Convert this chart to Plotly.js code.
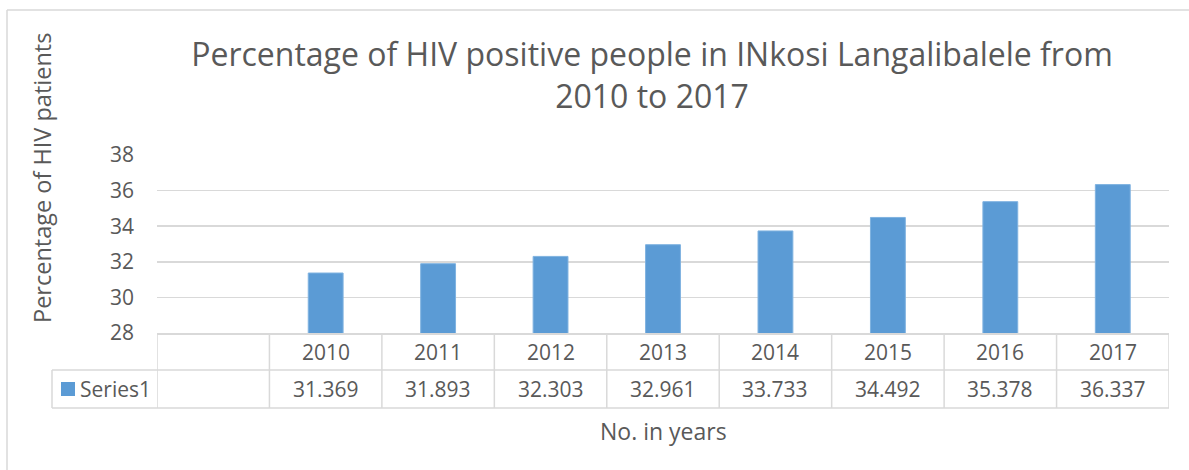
<!DOCTYPE html>
<html>
<head>
<meta charset="utf-8">
<script src="https://cdn.plot.ly/plotly-3.0.1.min.js"></script>
<style>html,body{margin:0;padding:0;background:#fff;}#chart{width:1189px;height:470px;}</style>
</head>
<body>
<div id="chart"></div>
<script>
// Data
const categories = ["", "2010", "2011", "2012", "2013", "2014", "2015", "2016", "2017"];
const values = [null, 31.369, 31.893, 32.303, 32.961, 33.733, 34.492, 35.378, 36.337];
const seriesName = "Series1";
const valueLabels = ["", "31.369", "31.893", "32.303", "32.961", "33.733", "34.492", "35.378", "36.337"];
const chartTitle = "Percentage of HIV positive people in INkosi Langalibalele from<br>2010 to 2017";
const yTitle = "Percentage of HIV patients";
const xTitle = "No. in years";

// Layout geometry (pixels)
const W = 1189, H = 470;
const L = 157, R = 1169, T = 155, B = 333;
const pw = R - L, ph = B - T;
const px = x => (x - L) / pw;
const py = y => (B - y) / ph;

const textColor = "#595959";
const gridColor = "#d9d9d9";
const barColor = "#5b9bd5";
const font = "Open Sans, sans-serif";

const xs = categories.map((c, i) => i);
const n = categories.length;

const row1Bottom = 370, row2Bottom = 408;

const shapes = [];
// outer chart border
shapes.push({type: "line", xref: "paper", yref: "paper", x0: px(7), x1: px(1200), y0: py(10), y1: py(10), line: {color: gridColor, width: 1.5}});
shapes.push({type: "line", xref: "paper", yref: "paper", x0: px(7), x1: px(7), y0: py(10), y1: py(480), line: {color: gridColor, width: 1.5}});
// table vertical lines
for (let i = 0; i <= n; i++) {
  shapes.push({type: "line", xref: "x", yref: "paper", x0: i - 0.5, x1: i - 0.5, y0: py(B), y1: py(row2Bottom), line: {color: gridColor, width: 1.5}});
}
// table horizontal lines
shapes.push({type: "line", xref: "paper", yref: "paper", x0: px(52), x1: 1, y0: py(row1Bottom), y1: py(row1Bottom), line: {color: gridColor, width: 1.5}});
shapes.push({type: "line", xref: "paper", yref: "paper", x0: px(52), x1: 1, y0: py(row2Bottom), y1: py(row2Bottom), line: {color: gridColor, width: 1.5}});
shapes.push({type: "line", xref: "paper", yref: "paper", x0: px(52), x1: px(52), y0: py(row1Bottom), y1: py(row2Bottom), line: {color: gridColor, width: 1.5}});
// legend key
shapes.push({type: "rect", xref: "paper", yref: "paper", x0: px(61), x1: px(75), y0: py(382), y1: py(396), fillcolor: barColor, line: {width: 0}});

const cellFont = {family: font, size: 21, color: textColor};
const annotations = [];
categories.forEach((c, i) => {
  if (c !== "") annotations.push({xref: "x", yref: "paper", x: i, y: py((B + row1Bottom) / 2), xanchor: "center", yanchor: "middle", text: c, showarrow: false, font: cellFont});
  if (valueLabels[i] !== "") annotations.push({xref: "x", yref: "paper", x: i, y: py((row1Bottom + row2Bottom) / 2), xanchor: "center", yanchor: "middle", text: valueLabels[i], showarrow: false, font: cellFont});
});
annotations.push({xref: "paper", yref: "paper", x: px(78), xanchor: "left", yanchor: "middle", y: py((row1Bottom + row2Bottom) / 2), text: seriesName, showarrow: false, font: cellFont});
annotations.push({xref: "paper", yref: "paper", x: px(42), y: py(178), xanchor: "center", yanchor: "middle", text: yTitle, textangle: -90, showarrow: false, font: {family: font, size: 23.5, color: textColor}});
annotations.push({xref: "paper", yref: "paper", x: px(663), y: py(431), xanchor: "center", yanchor: "middle", text: xTitle, showarrow: false, font: {family: font, size: 23, color: textColor}});

const data = [{
  type: "bar",
  x: xs,
  y: values,
  name: seriesName,
  marker: {color: barColor, line: {color: "#7fb2e0", width: 1}},
  hoverinfo: "y"
}];

const layout = {
  width: W, height: H,
  margin: {l: L, r: W - R, t: T, b: H - B, pad: 0},
  paper_bgcolor: "#fff", plot_bgcolor: "#fff",
  showlegend: false,
  bargap: 0.69,
  title: {text: chartTitle, x: 652 / W, xanchor: "center", y: 1 - 66 / H, yanchor: "middle", font: {family: font, size: 32, color: textColor}},
  xaxis: {range: [-0.5, n - 0.5], showticklabels: false, showgrid: false, zeroline: false, showline: true, linecolor: gridColor, linewidth: 1.5, ticks: ""},
  yaxis: {range: [28, 38], dtick: 2, tick0: 28, showgrid: true, gridcolor: gridColor, gridwidth: 1.5, zeroline: false, showline: false, ticks: "", ticklabelstandoff: 22,
          tickfont: {family: font, size: 21, color: textColor}},
  shapes: shapes,
  annotations: annotations
};

Plotly.newPlot("chart", data, layout, {displayModeBar: false, staticPlot: true});
</script>
</body>
</html>
